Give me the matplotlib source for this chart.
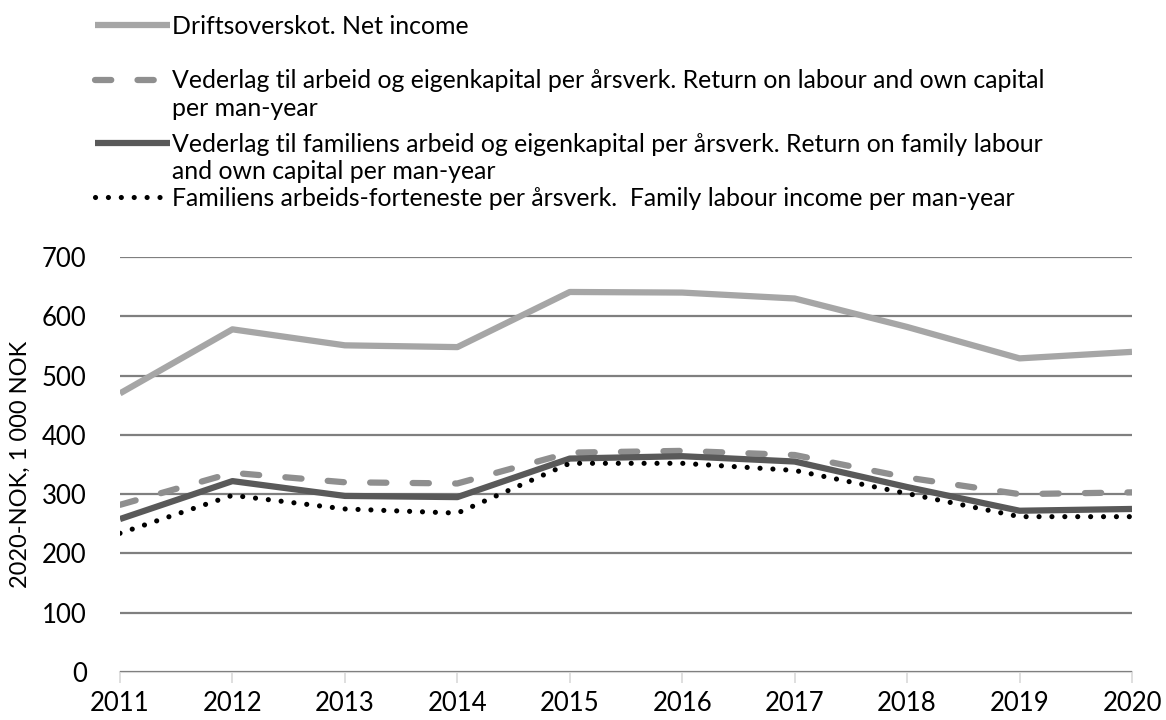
import matplotlib.pyplot as plt
from matplotlib.lines import Line2D
import numpy as np

plt.rcParams['font.family'] = ['Lato', 'DejaVu Sans']

years = [2011, 2012, 2013, 2014, 2015, 2016, 2017, 2018, 2019, 2020]
driftsoverskot = [470, 578, 551, 548, 641, 640, 630, 582, 529, 540]
vederlag_arbeid = [282, 336, 320, 318, 370, 373, 366, 328, 300, 303]
vederlag_familie = [258, 322, 297, 295, 360, 364, 355, 312, 272, 275]
arbeidsforteneste = [234, 298, 275, 268, 352, 352, 340, 301, 262, 262]

labels = [
    ['Driftsoverskot. Net income'],
    ['Vederlag til arbeid og eigenkapital per årsverk. Return on labour and own capital',
     'per man-year'],
    ['Vederlag til familiens arbeid og eigenkapital per årsverk. Return on family labour',
     'and own capital per man-year'],
    ['Familiens arbeids-forteneste per årsverk.  Family labour income per man-year'],
]

styles = [
    dict(color='#a6a6a6', lw=4.5, ls='-'),
    dict(color='#8f8f8f', lw=4.5, ls=(0, (2.6, 4.2)), dash_capstyle='round'),
    dict(color='#595959', lw=4.5, ls='-'),
    dict(color='black', lw=3.7, ls=(0, (0.01, 2.5)), dash_capstyle='round'),
]

fig = plt.figure(figsize=(11.66, 7.2), dpi=100)
ax = fig.add_axes([120 / 1166, 1 - 672 / 720, (1132 - 120) / 1166, (672 - 257) / 720])

series = [driftsoverskot, vederlag_arbeid, vederlag_familie, arbeidsforteneste]
for vals, st in zip(series, styles):
    ax.plot(years, vals, solid_capstyle='butt', **st)

ax.set_xlim(2011, 2020)
ax.set_ylim(0, 700)
ax.set_yticks(np.arange(0, 701, 100))
ax.set_xticks(years)
ax.grid(axis='y', color='#7f7f7f', lw=1.6)
ax.set_axisbelow(True)
for s in ['top', 'right', 'left']:
    ax.spines[s].set_visible(False)
ax.spines['bottom'].set_color('#d9d9d9')
ax.spines['bottom'].set_linewidth(1.5)
ax.spines['bottom'].set_zorder(0.5)
ax.tick_params(axis='y', length=0, pad=24, labelsize=18.5)
ax.tick_params(axis='x', length=8, color='#d9d9d9', width=1.2, pad=6, labelsize=18.5)
ax.set_ylabel('2020-NOK, 1 000 NOK', fontsize=17, labelpad=8)

# legend built by hand to match the uneven spacing
rows = [25, 80, 143, 197]
for lines, st, y in zip(labels, styles, rows):
    yf = 1 - y / 720
    fig.add_artist(Line2D([95 / 1166, 170 / 1166], [yf, yf], transform=fig.transFigure,
                          solid_capstyle='butt', **st))
    for i, txt in enumerate(lines):
        fig.text(172 / 1166, 1 - (y + 1 + 27.5 * i) / 720, txt, fontsize=17.9, va='center')

fig.savefig('out.png', dpi=100)
